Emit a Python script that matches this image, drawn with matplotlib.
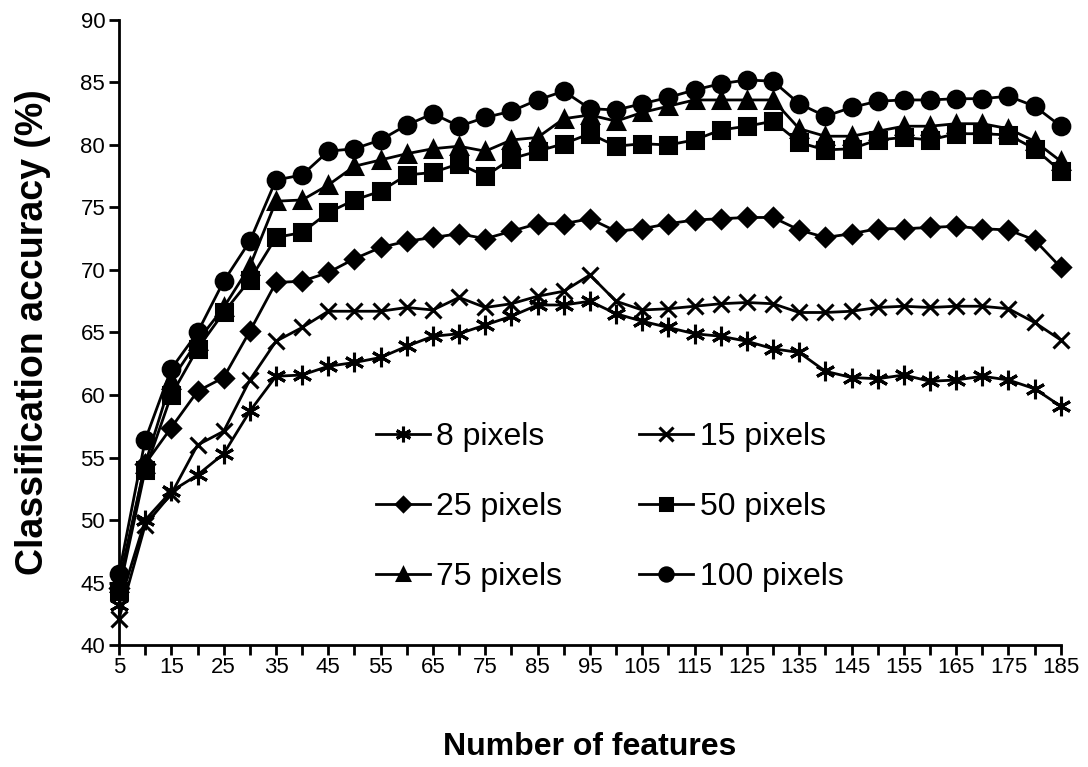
import numpy as np
import matplotlib
matplotlib.use('Agg')
import matplotlib.pyplot as plt

features = list(range(5, 190, 5))

acc_8 = [43.2, 50.0, 52.3, 53.6, 55.3, 58.7, 61.5, 61.6, 62.3, 62.6,
         63.0, 63.9, 64.7, 64.9, 65.6, 66.3, 67.2, 67.2, 67.5, 66.5,
         65.9, 65.4, 64.9, 64.7, 64.3, 63.7, 63.4, 61.9, 61.4, 61.3,
         61.6, 61.1, 61.2, 61.5, 61.2, 60.5, 59.1]
acc_15 = [42.1, 49.6, 52.1, 56.0, 57.1, 61.2, 64.3, 65.4, 66.7, 66.7,
          66.7, 67.0, 66.8, 67.8, 67.0, 67.3, 67.9, 68.3, 69.6, 67.5,
          66.8, 66.9, 67.1, 67.3, 67.4, 67.3, 66.6, 66.6, 66.7, 67.0,
          67.1, 67.0, 67.1, 67.1, 66.9, 65.8, 64.4]
acc_25 = [44.6, 54.5, 57.4, 60.3, 61.4, 65.1, 69.0, 69.1, 69.8, 70.9,
          71.8, 72.3, 72.6, 72.9, 72.5, 73.1, 73.7, 73.7, 74.1, 73.1,
          73.3, 73.7, 74.0, 74.1, 74.2, 74.2, 73.2, 72.6, 72.9, 73.3,
          73.3, 73.4, 73.5, 73.3, 73.2, 72.4, 70.2]
acc_50 = [44.3, 54.0, 60.0, 63.7, 66.6, 69.2, 72.6, 73.0, 74.6, 75.6,
          76.3, 77.6, 77.8, 78.5, 77.5, 78.9, 79.5, 80.1, 80.9, 79.9,
          80.1, 80.0, 80.4, 81.2, 81.5, 81.9, 80.2, 79.6, 79.7, 80.4,
          80.6, 80.4, 80.9, 80.9, 80.8, 79.7, 77.9]
acc_75 = [45.0, 54.5, 61.2, 64.3, 67.0, 70.3, 75.5, 75.6, 76.8, 78.3,
          78.8, 79.3, 79.7, 79.9, 79.5, 80.4, 80.6, 82.1, 82.4, 81.9,
          82.6, 83.1, 83.6, 83.6, 83.6, 83.6, 81.3, 80.7, 80.7, 81.1,
          81.5, 81.5, 81.7, 81.7, 81.3, 80.3, 78.7]
acc_100 = [45.7, 56.4, 62.1, 65.0, 69.1, 72.3, 77.2, 77.6, 79.5, 79.7,
           80.4, 81.6, 82.5, 81.5, 82.2, 82.7, 83.6, 84.3, 82.9, 82.8,
           83.3, 83.8, 84.4, 84.9, 85.2, 85.1, 83.3, 82.3, 83.0, 83.5,
           83.6, 83.6, 83.7, 83.7, 83.9, 83.1, 81.5]

labels = ['8 pixels', '15 pixels', '25 pixels', '50 pixels', '75 pixels', '100 pixels']
series = [acc_8, acc_15, acc_25, acc_50, acc_75, acc_100]
markers = [(6, 2, 0), 'x', 'D', 's', '^', 'o']
msizes = [14, 12, 9, 11, 11, 12]

font = ['Liberation Sans', 'DejaVu Sans']

fig = plt.figure(figsize=(10.88, 7.67), dpi=100)
ax = fig.add_axes([0.1094, 0.159, 0.8656, 0.815])

lines = {}
for lab, vals, m, ms in zip(labels, series, markers, msizes):
    ln, = ax.plot(features, vals, color='black', lw=2, marker=m, markersize=ms,
                  markerfacecolor='black', markeredgecolor='black', mew=2.2,
                  label=lab, clip_on=False)
    lines[lab] = ln

ax.set_xlim(5, 185)
ax.set_ylim(40, 90)
ax.set_xticks(features)
ax.set_xticklabels([str(f) if (f - 5) % 10 == 0 else '' for f in features])
ax.set_yticks(np.arange(40, 91, 5))

for sp in ['top', 'right']:
    ax.spines[sp].set_visible(False)
for sp in ['left', 'bottom']:
    ax.spines[sp].set_linewidth(2)

ax.tick_params(axis='both', direction='out', length=7, width=2, colors='black')
ax.tick_params(axis='x', pad=1.5)
ax.tick_params(axis='y', pad=3)
for t in ax.get_xticklabels() + ax.get_yticklabels():
    t.set_fontfamily(font)
    t.set_fontsize(16)

ax.set_xlabel('Number of features', fontsize=23, fontweight='bold', family=font, labelpad=39)
ax.set_ylabel('Classification accuracy (%)', fontsize=27, fontweight='bold', family=font, labelpad=21)

order = ['8 pixels', '25 pixels', '75 pixels', '15 pixels', '50 pixels', '100 pixels']
leg = ax.legend([lines[k] for k in order], order, ncol=2, frameon=False,
                loc='center left', bbox_to_anchor=(0.242, 0.221),
                prop={'family': font, 'size': 23}, handlelength=1.7,
                handletextpad=0.2, columnspacing=2.4, labelspacing=1.25,
                markerscale=0.8)

fig.savefig('out.png', dpi=100)
